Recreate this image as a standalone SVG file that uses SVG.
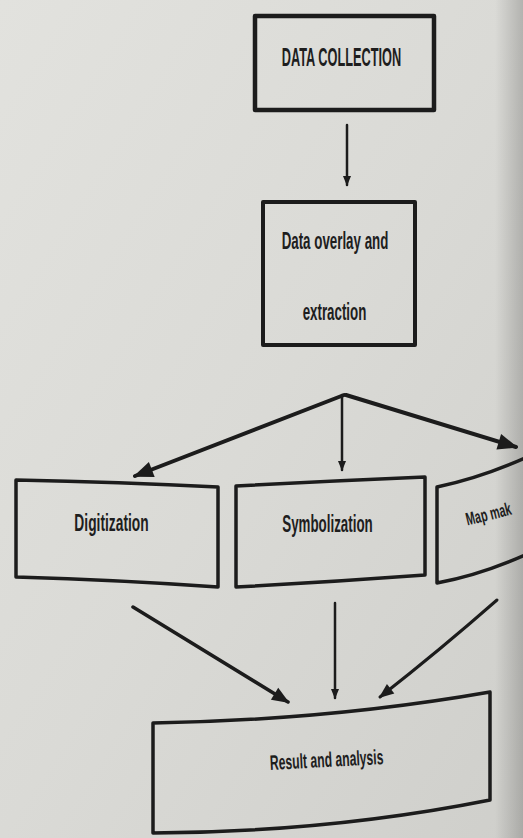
<svg xmlns="http://www.w3.org/2000/svg" width="523" height="838" viewBox="0 0 523 838">
<defs>
<linearGradient id="bg" x1="0" y1="0" x2="1" y2="1">
<stop offset="0" stop-color="#e2e2de"/>
<stop offset="0.5" stop-color="#dadad6"/>
<stop offset="1" stop-color="#cfcfcb"/>
</linearGradient>
<linearGradient id="edge" x1="0" y1="0" x2="1" y2="0">
<stop offset="0" stop-color="#000" stop-opacity="0"/>
<stop offset="1" stop-color="#000" stop-opacity="0.18"/>
</linearGradient>
<marker id="ah" viewBox="0 0 10 10" refX="9" refY="5" markerWidth="4" markerHeight="4" orient="auto" markerUnits="strokeWidth">
<path d="M0,1 L10,5 L0,9 Z" fill="#1c1c1c"/>
</marker>
<marker id="ahs" viewBox="0 0 10 10" refX="9" refY="5" markerWidth="6" markerHeight="5" orient="auto" markerUnits="strokeWidth">
<path d="M0,1 L10,5 L0,9 Z" fill="#1c1c1c"/>
</marker>
</defs>
<style>
.box{fill:none;stroke:#1c1c1c;stroke-width:3.5;stroke-linejoin:round}
.lbl{font-family:"Liberation Sans","DejaVu Sans",sans-serif;font-weight:bold;fill:#1e1e1e;text-anchor:middle}
.con{fill:none;stroke:#1c1c1c;stroke-linecap:round}
</style>
<rect width="523" height="838" fill="url(#bg)"/>
<rect x="495" width="28" height="838" fill="url(#edge)"/>

<g id="data-collection">
<rect class="box" x="255" y="16" width="179" height="94" style="stroke-width:4.5"/>
<text class="lbl" font-size="25" transform="translate(341.5 66) scale(0.51 1)">DATA COLLECTION</text>
</g>

<g id="data-overlay">
<rect class="box" x="263" y="202" width="152" height="143" style="stroke-width:4"/>
<text class="lbl" font-size="23" transform="translate(335 249) scale(0.58 1)">Data overlay and</text>
<text class="lbl" font-size="23" transform="translate(334.5 320) scale(0.58 1)">extraction</text>
</g>

<g id="digitization">
<path class="box" d="M16,480 Q120,482 218,487 L218,587 Q120,580 16,577 Z"/>
<text class="lbl" font-size="23" transform="translate(111.5 531) scale(0.6 1)">Digitization</text>
</g>

<g id="symbolization">
<path class="box" d="M236,486 Q330,481 425,477 L425,575 Q330,582 236,587 Z"/>
<text class="lbl" font-size="23" transform="translate(327.5 532) scale(0.58 1)">Symbolization</text>
</g>

<g id="map-making">
<path class="box" d="M525,458 Q480,478 437,487 L437,583 Q480,575 525,555"/>
<text class="lbl" font-size="18" transform="translate(490 520) rotate(-14) scale(0.6 1)">Map mak</text>
</g>

<g id="result">
<path class="box" d="M153,723 Q330,720 490,692 L490,800 Q330,832 153,833 Z"/>
<text class="lbl" font-size="21" transform="translate(327 767) rotate(-3) scale(0.58 1)">Result and analysis</text>
</g>

<g id="connectors">
<line class="con" x1="347" y1="125" x2="347" y2="185" stroke-width="2.5" marker-end="url(#ah)"/>
<line class="con" x1="344" y1="395" x2="135" y2="476" stroke-width="4" marker-end="url(#ahs)"/>
<line class="con" x1="342" y1="395" x2="342" y2="470" stroke-width="2.5" marker-end="url(#ah)"/>
<line class="con" x1="346" y1="395" x2="516" y2="447" stroke-width="4" marker-end="url(#ahs)"/>
<line class="con" x1="133" y1="607" x2="288" y2="702" stroke-width="3.5" marker-end="url(#ahs)"/>
<line class="con" x1="335" y1="603" x2="335" y2="698" stroke-width="2.5" marker-end="url(#ah)"/>
<path class="con" d="M497,600 Q440,650 380,697" stroke-width="3" marker-end="url(#ahs)"/>
</g>
</svg>
